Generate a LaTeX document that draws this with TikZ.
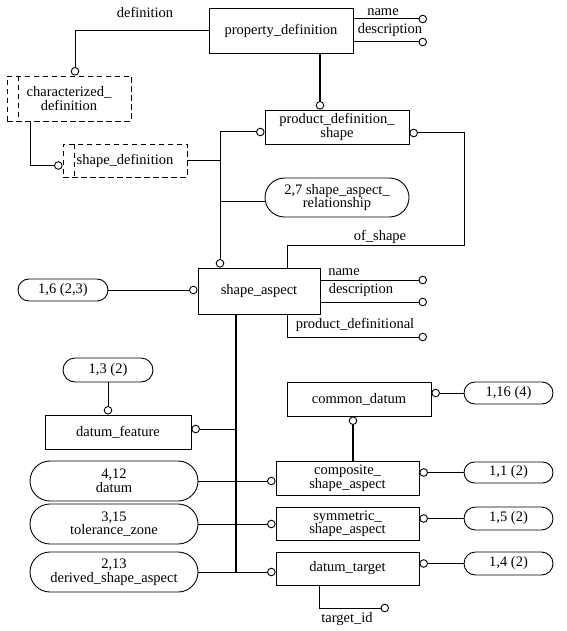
\documentclass[tikz,border=0pt]{standalone}
\usepackage{fontspec}
\setmainfont{Liberation Serif}
\usetikzlibrary{arrows.meta,shapes.misc}
\begin{document}
\begin{tikzpicture}[x=1pt,y=-1pt,
  every node/.style={font=\fontsize{14.5}{13.5}\selectfont,inner sep=0pt,align=center},
  size/.style 2 args={minimum width=#1,minimum height=#2},
  entity/.style={draw,line width=0.9pt,rectangle},
  select/.style={draw,line width=0.9pt,dash pattern=on 5.5pt off 3.5pt},
  pageref/.style={draw,line width=0.9pt,rounded rectangle},
  rel/.style={line width=1pt},
  attr/.style={line width=1pt,-{Circle[open,length=8.5pt,line width=0.9pt]}},
  trunk/.style={line width=1.8pt}]
\useasboundingbox (0,0) rectangle (566,631);

\node[entity,size={144pt}{45pt}] (pdef) at (281,30.5) {property\_definition};
\node[select,size={124pt}{45pt}] (chdef) at (69,98.5) {characterized\_\\definition};
\node[select,size={124pt}{33pt}] (shdef) at (125,160.5) {shape\_definition};
\draw[select] ([xshift=12pt]chdef.north west) -- ([xshift=12pt]chdef.south west);
\draw[select] ([xshift=12pt]shdef.north west) -- ([xshift=12pt]shdef.south west);
\node[entity,size={144pt}{34pt}] (pdshape) at (337,127) {product\_definition\_\\shape};
\node[pageref,size={144pt}{39pt}] (sar) at (337,197.5) {2,7 shape\_aspect\_\\relationship};
\node[entity,size={122pt}{46pt}] (sa) at (259,291) {shape\_aspect};
\node[pageref,size={90pt}{22pt}] (p16) at (63,290) {1,6 (2,3)};
\node[pageref,size={90pt}{24pt}] (p13) at (108,370) {1,3 (2)};
\node[entity,size={146pt}{34pt}] (dfeat) at (118,432) {datum\_feature};
\node[entity,size={144pt}{34pt}] (cdatum) at (359,399) {common\_datum};
\node[pageref,size={89pt}{22pt}] (p116) at (508.5,393) {1,16 (4)};
\node[entity,size={143pt}{34pt}] (comp) at (347.5,478) {composite\_\\shape\_aspect};
\node[entity,size={143pt}{33pt}] (sym) at (347.5,523.5) {symmetric\_\\shape\_aspect};
\node[entity,size={143pt}{33pt}] (dtarget) at (347.5,568.5) {datum\_target};
\node[pageref,size={89pt}{21pt}] (p11) at (508.5,472.5) {1,1 (2)};
\node[pageref,size={89pt}{23pt}] (p15) at (508.5,518.5) {1,5 (2)};
\node[pageref,size={89pt}{23pt}] (p14) at (508.5,563.5) {1,4 (2)};
\node[pageref,size={168pt}{40pt}] (pdatum) at (114,481) {4,12\\datum};
\node[pageref,size={168pt}{40pt}] (ptol) at (114,524) {3,15\\tolerance\_zone};
\node[pageref,size={168pt}{40pt}] (pder) at (114,572) {2,13\\derived\_shape\_aspect};

\coordinate (jtop) at (220,132);
\coordinate (jsar) at (220,201);
\coordinate (ofs) at (464,245);
\coordinate (tk) at (236,0);
\coordinate (pdname) at (427,19);
\coordinate (pddesc) at (427,42);
\coordinate (saname) at (427,280);
\coordinate (sadesc) at (427,302);
\coordinate (sapd) at (427,337);
\coordinate (tid) at (389,608);

\draw[attr] (pdname -| pdef.east) -- (pdname);
\draw[attr] (pddesc -| pdef.east) -- (pddesc);
\node (lpdname) at (383,12) {name};
\node (lpddesc) at (390,30) {description};
\draw[attr] (pdef.west) -| ([xshift=6pt]chdef.north);
\node (ldef) at (145,12) {definition};
\draw[attr] ([xshift=-39pt]chdef.south) |- ([yshift=-5pt]shdef.west);
\draw[rel] (shdef.east) -- (shdef.east -| jtop);
\draw[attr] (jtop) -- (jtop -| pdshape.west);
\draw[attr] (jtop) -- (jtop |- sa.north);
\draw[rel] (jsar) -- (jsar -| sar.west);
\draw[attr,line width=1.6pt] ([xshift=39pt]pdef.south) -- ([xshift=39pt]pdef.south |- pdshape.north);
\draw[attr] ([xshift=28pt]sa.north) |- (ofs) |- ([yshift=-6pt]pdshape.east);
\node (lofs) at (380,237) {of\_shape};

\draw[attr] (saname -| sa.east) -- (saname);
\draw[attr] (sadesc -| sa.east) -- (sadesc);
\draw[attr] ([xshift=28pt]sa.south) |- (sapd);
\node (lsaname) at (344,272) {name};
\node (lsadesc) at (361,290) {description};
\node (lsapd) at (355,325) {product\_definitional};
\draw[attr] (p16.east) -- (p16.east -| sa.west);

\draw[trunk] ([xshift=-23pt]sa.south) -- (pder.east -| tk);
\draw[attr] ([yshift=3pt]dfeat.east -| tk) -- ([yshift=3pt]dfeat.east);
\draw[attr] (pdatum.east) -- (pdatum.east -| comp.west);
\draw[attr] (ptol.east) -- (ptol.east -| sym.west);
\draw[attr] (pder.east) -- (pder.east -| dtarget.west);
\draw[attr] (p13.south) -- (p13.south |- dfeat.north);

\draw[attr] (p116.west) -- (p116.west -| cdatum.east);
\draw[attr,line width=1.6pt] ([xshift=5.5pt]comp.north) -- ([xshift=5.5pt]comp.north |- cdatum.south);
\draw[attr] (p11.west) -- (p11.west -| comp.east);
\draw[attr] (p15.west) -- (p15.west -| sym.east);
\draw[attr] (p14.west) -- (p14.west -| dtarget.east);
\draw[attr] ([xshift=-28.5pt]dtarget.south) |- (tid);
\node (ltid) at (347,619) {target\_id};
\end{tikzpicture}
\end{document}
